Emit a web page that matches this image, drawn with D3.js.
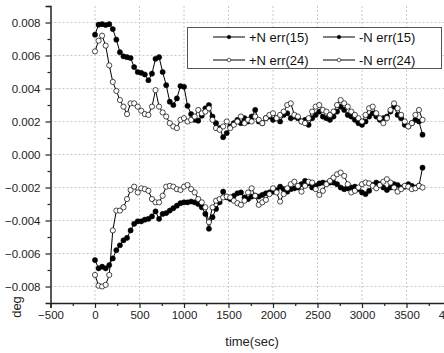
<!DOCTYPE html>
<html>
<head>
<meta charset="utf-8">
<script src="https://cdn.jsdelivr.net/npm/d3@7"></script>
<style>
  body { margin: 0; background: #fff; }
  svg { display: block; font-family: "Liberation Sans", Arial, sans-serif; }
</style>
</head>
<body>
<div id="chart"></div>
<script>
// sample times (sec)
const times = [0,40,80,120,160,200,240,280,320,360,400,440,480,520,560,600,640,680,720,760,
  800,840,880,920,960,1000,1040,1080,1120,1160,1200,1240,1280,1320,1360,1400,1440,1480,1520,1560,
  1600,1640,1680,1720,1760,1800,1840,1880,1920,1960,2000,2040,2080,2120,2160,2200,2240,2280,2320,2360,
  2400,2440,2480,2520,2560,2600,2640,2680,2720,2760,2800,2840,2880,2920,2960,3000,3040,3080,3120,3160,
  3200,3240,3280,3320,3360,3400,3440,3480,3520,3560,3600,3640,3680];

// +N err(15)
const posN15 = [0.00726,0.00787,0.0079,0.00785,0.0079,0.0076,0.00696,0.0062,0.00595,0.0059,
  0.00585,0.0053,0.005,0.00495,0.00485,0.0045,0.0049,0.0058,0.0059,0.005,
  0.0042,0.0032,0.003,0.0034,0.00415,0.0041,0.00295,0.00245,0.0021,0.00205,
  0.00235,0.0028,0.003,0.0023,0.0019,0.0016,0.00105,0.0013,0.0017,0.0019,
  0.0021,0.0019,0.0022,0.002,0.0023,0.0027,0.002,0.0019,0.0022,0.0023,
  0.0021,0.0022,0.002,0.0024,0.0025,0.0022,0.0023,0.0022,0.002,0.0021,
  0.0018,0.0022,0.0024,0.0026,0.0023,0.0022,0.0021,0.0023,0.0026,0.0029,
  0.0027,0.0024,0.0023,0.0021,0.0019,0.0018,0.002,0.0023,0.0025,0.0023,
  0.0021,0.0022,0.0023,0.0026,0.0029,0.0024,0.0022,0.0018,0.0017,0.0019,
  0.0021,0.002,0.0012];

// -N err(15)
const negN15 = [-0.0064,-0.0069,-0.0068,-0.0069,-0.0067,-0.0063,-0.0058,-0.0055,-0.0052,-0.00505,
  -0.0046,-0.0042,-0.00405,-0.00405,-0.00395,-0.0039,-0.00375,-0.00345,-0.0039,-0.0036,
  -0.00355,-0.0034,-0.00325,-0.0031,-0.00295,-0.0029,-0.0029,-0.00285,-0.0029,-0.003,
  -0.0032,-0.0036,-0.0045,-0.0038,-0.0033,-0.0029,-0.00225,-0.0026,-0.0027,-0.0025,
  -0.00235,-0.0023,-0.0026,-0.0027,-0.00255,-0.0025,-0.00255,-0.00245,-0.00235,-0.0023,
  -0.00225,-0.00215,-0.00195,-0.0021,-0.00225,-0.0021,-0.00205,-0.002,-0.0018,-0.0016,
  -0.00175,-0.002,-0.0019,-0.00175,-0.0017,-0.00175,-0.0017,-0.0017,-0.0018,-0.002,
  -0.0021,-0.00205,-0.002,-0.00195,-0.0021,-0.0023,-0.0024,-0.0022,-0.00185,-0.0017,
  -0.0018,-0.002,-0.00215,-0.002,-0.0018,-0.00185,-0.002,-0.00195,-0.0018,-0.0019,
  -0.002,-0.0019,-0.0008];

// +N err(24)
const posN24 = [0.00625,0.0069,0.0072,0.0066,0.0054,0.0044,0.00385,0.0033,0.0029,0.00245,
  0.0031,0.0031,0.0029,0.00265,0.00245,0.0024,0.0029,0.0039,0.0029,0.00255,
  0.0023,0.0019,0.0017,0.0016,0.0021,0.0022,0.002,0.0021,0.0023,0.0027,
  0.0025,0.0026,0.0028,0.0021,0.0016,0.0015,0.0017,0.002,0.0016,0.0018,
  0.002,0.0023,0.0019,0.0021,0.002,0.0023,0.0021,0.0019,0.0022,0.0024,
  0.0025,0.0022,0.0024,0.0026,0.003,0.0031,0.0024,0.0023,0.002,0.0019,
  0.0022,0.0026,0.0029,0.003,0.0027,0.0026,0.0024,0.0026,0.003,0.0033,
  0.0031,0.0029,0.0026,0.0024,0.0022,0.002,0.0024,0.0028,0.0029,0.0025,
  0.0022,0.0019,0.0022,0.0027,0.0031,0.0028,0.0024,0.002,0.0017,0.0019,
  0.0024,0.0027,0.0021];

// -N err(24)
const negN24 = [-0.0073,-0.00795,-0.008,-0.0079,-0.0073,-0.0046,-0.0034,-0.0034,-0.0032,-0.0027,
  -0.00215,-0.00195,-0.0023,-0.00205,-0.0021,-0.0022,-0.0027,-0.0029,-0.0029,-0.0025,
  -0.00195,-0.0019,-0.00195,-0.0021,-0.00215,-0.00195,-0.00185,-0.0021,-0.0023,-0.0027,
  -0.0029,-0.0032,-0.0041,-0.0032,-0.0028,-0.0027,-0.0026,-0.00255,-0.0026,-0.0028,
  -0.00295,-0.00305,-0.0028,-0.0023,-0.00205,-0.0025,-0.00305,-0.0029,-0.00275,-0.0024,
  -0.00205,-0.0023,-0.00285,-0.0024,-0.00205,-0.0018,-0.00165,-0.0019,-0.00225,-0.0019,
  -0.00165,-0.0017,-0.0021,-0.00245,-0.0022,-0.0018,-0.0016,-0.0014,-0.0012,-0.0011,
  -0.0013,-0.0018,-0.0023,-0.0022,-0.002,-0.0018,-0.0017,-0.00175,-0.0019,-0.00205,
  -0.00185,-0.00165,-0.0015,-0.0017,-0.002,-0.00225,-0.0021,-0.0019,-0.00195,-0.0021,
  -0.00205,-0.0019,-0.002];

const xTicks = [-500,0,500,1000,1500,2000,2500,3000,3500,4000];
const yTicks = [-0.008,-0.006,-0.004,-0.002,0,0.002,0.004,0.006,0.008];

const series = [
  { name: '+N err(15)', values: posN15, open: false },
  { name: '-N err(15)', values: negN15, open: false },
  { name: '+N err(24)', values: posN24, open: true },
  { name: '-N err(24)', values: negN24, open: true }
];

const width = 444, height = 353;

const svg = d3.select('#chart')
  .append('svg')
  .attr('width', width)
  .attr('height', height);

const x = d3.scaleLinear().domain([-500, 4000]).range([50.5, 451]);
const y = d3.scaleLinear().domain([-0.009, 0.009]).range([303, 6]);

// grid
svg.append('g')
  .selectAll('line')
  .data(xTicks.slice(1))
  .enter()
  .append('line')
  .attr('x1', d => x(d)).attr('x2', d => x(d))
  .attr('y1', y(0.009)).attr('y2', y(-0.009))
  .attr('stroke', '#c8c8c8')
  .attr('stroke-dasharray', '2,2');

svg.append('g')
  .selectAll('line')
  .data(yTicks)
  .enter()
  .append('line')
  .attr('x1', x(-500)).attr('x2', width)
  .attr('y1', d => y(d)).attr('y2', d => y(d))
  .attr('stroke', '#c8c8c8')
  .attr('stroke-dasharray', '2,2');

// series
const line = d3.line()
  .x((d, i) => x(times[i]))
  .y(d => y(d));

series.forEach(s => {
  const g = svg.append('g');
  g.append('path')
    .datum(s.values)
    .attr('d', line)
    .attr('fill', 'none')
    .attr('stroke', '#000')
    .attr('stroke-width', 1);
  g.selectAll('circle')
    .data(s.values)
    .enter()
    .append('circle')
    .attr('cx', (d, i) => x(times[i]))
    .attr('cy', d => y(d))
    .attr('r', 2.6)
    .attr('fill', s.open ? '#fff' : '#000')
    .attr('stroke', '#000')
    .attr('stroke-width', s.open ? 0.7 : 0.5);
});

// axes
svg.append('g')
  .attr('transform', `translate(0,${y(-0.009)})`)
  .call(d3.axisBottom(x).tickValues(xTicks).tickFormat(d3.format('d')).tickSize(5).tickPadding(3));

svg.append('g')
  .attr('transform', `translate(0,${y(-0.009)})`)
  .call(d3.axisBottom(x).tickValues(d3.range(-250, 4000, 500)).tickFormat('').tickSize(3))
  .select('.domain').remove();

svg.append('g')
  .attr('transform', `translate(${x(-500)},0)`)
  .call(d3.axisLeft(y).tickValues(yTicks).tickFormat(d3.format('.3f')).tickSize(5).tickPadding(5));

svg.append('g')
  .attr('transform', `translate(${x(-500)},0)`)
  .call(d3.axisLeft(y).tickValues(d3.range(-0.007, 0.0095, 0.002)).tickFormat('').tickSize(3))
  .select('.domain').remove();

svg.selectAll('.domain').attr('stroke', '#222').attr('stroke-width', 1.5);
svg.selectAll('.tick line').attr('stroke', '#222').attr('stroke-width', 1.2);
svg.selectAll('.tick text')
  .attr('fill', '#222')
  .style('font-size', '11.5px')
  .style('font-family', '"Liberation Sans", Arial, sans-serif');

// axis titles
svg.append('text')
  .attr('x', 252)
  .attr('y', 346)
  .attr('text-anchor', 'middle')
  .attr('fill', '#222')
  .style('font-size', '13px')
  .text('time(sec)');

svg.append('text')
  .attr('transform', 'translate(21,307) rotate(-90)')
  .attr('text-anchor', 'middle')
  .attr('fill', '#222')
  .style('font-size', '13px')
  .text('deg');

// legend
const legend = svg.append('g');
legend.append('rect')
  .attr('x', 187.5).attr('y', 27.5)
  .attr('width', 254).attr('height', 41)
  .attr('fill', '#fff')
  .attr('stroke', '#555')
  .attr('stroke-width', 1);

const legendPos = [
  { lx: 213, ly: 37 },
  { lx: 323, ly: 37 },
  { lx: 213, ly: 60 },
  { lx: 323, ly: 60 }
];

series.forEach((s, i) => {
  const p = legendPos[i];
  legend.append('line')
    .attr('x1', p.lx).attr('x2', p.lx + 32)
    .attr('y1', p.ly).attr('y2', p.ly)
    .attr('stroke', '#000')
    .attr('stroke-width', 1);
  legend.append('circle')
    .attr('cx', p.lx + 16).attr('cy', p.ly)
    .attr('r', 1.8)
    .attr('fill', s.open ? '#fff' : '#000')
    .attr('stroke', '#000')
    .attr('stroke-width', 0.6);
  legend.append('text')
    .attr('x', p.lx + 36)
    .attr('y', p.ly + 4.5)
    .attr('fill', '#111')
    .style('font-size', '13px')
    .text(s.name);
});
</script>
</body>
</html>
